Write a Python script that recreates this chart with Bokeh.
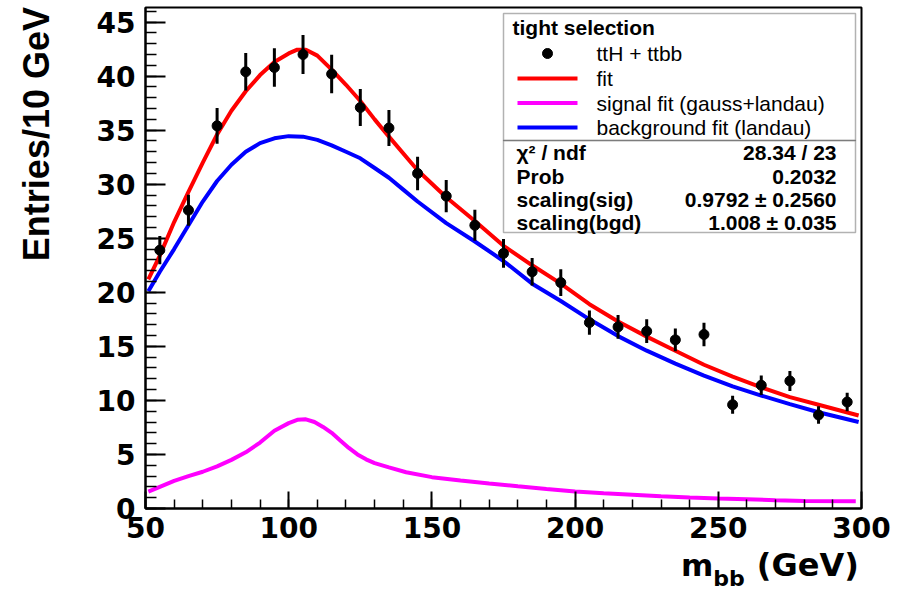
from bokeh.plotting import figure
from bokeh.models import Range1d, FixedTicker, Label, BoxAnnotation, ColumnDataSource, Div
from bokeh.layouts import column, row
from bokeh.embed import file_html
from bokeh.resources import INLINE

# ---------------- data ----------------
bin_centers = [55, 65, 75, 85, 95, 105, 115, 125, 135, 145, 155, 165, 175,
               185, 195, 205, 215, 225, 235, 245, 255, 265, 275, 285, 295]
counts = [23.9, 27.6, 35.4, 40.4, 40.8, 42.0, 40.2, 37.1, 35.2, 31.0, 28.9, 26.2, 23.6,
          21.9, 20.9, 17.2, 16.8, 16.4, 15.6, 16.1, 9.6, 11.4, 11.8, 8.65, 9.85]
errors = [1.3, 1.43, 1.65, 1.74, 1.78, 1.8, 1.78, 1.72, 1.66, 1.55, 1.5, 1.43, 1.33,
          1.28, 1.23, 1.12, 1.1, 1.1, 1.05, 1.08, 0.83, 0.9, 0.93, 0.8, 0.85]

fit_x = [51, 55, 60, 65, 70, 75, 80, 85, 90, 95, 100, 103, 106, 110, 115, 120, 125, 130,
         135, 145, 155, 165, 175, 185, 195, 205, 215, 225, 235, 245, 255, 265, 275, 285, 299]
fit_y = [21.2, 23.4, 26.5, 29.3, 32.0, 34.6, 36.8, 38.6, 40.1, 41.3, 42.1, 42.45, 42.45, 41.9,
         40.6, 39.2, 37.7, 36.0, 34.4, 31.3, 28.8, 26.6, 24.3, 22.5, 20.8, 18.9, 17.3, 15.9,
         14.6, 13.3, 12.2, 11.2, 10.3, 9.6, 8.6]

bkg_x = [51, 55, 60, 65, 70, 75, 80, 85, 90, 95, 100, 105, 110, 115, 120, 125, 130, 135,
         140, 145, 155, 165, 175, 185, 195, 205, 215, 225, 235, 245, 255, 265, 275, 285, 299]
bkg_y = [20.1, 21.9, 24.0, 26.2, 28.4, 30.3, 31.8, 33.0, 33.8, 34.25, 34.45, 34.4, 34.1, 33.6,
         33.0, 32.4, 31.5, 30.6, 29.5, 28.4, 26.4, 24.7, 22.9, 20.8, 19.2, 17.5, 15.95, 14.6,
         13.4, 12.3, 11.3, 10.45, 9.65, 8.9, 8.0]

sig_x = [51, 55, 60, 65, 70, 75, 80, 85, 90, 95, 100, 103, 106, 109, 112, 115, 118, 121,
         124, 127, 130, 135, 141, 150, 160, 170, 180, 190, 200, 210, 220, 230, 240, 250,
         260, 270, 280, 298]
sig_y = [1.56, 2.0, 2.55, 3.0, 3.4, 3.9, 4.5, 5.2, 6.1, 7.2, 7.9, 8.2, 8.25, 8.0, 7.55, 7.0,
         6.3, 5.6, 5.0, 4.55, 4.2, 3.8, 3.35, 2.9, 2.6, 2.32, 2.05, 1.8, 1.58, 1.42, 1.28,
         1.14, 1.02, 0.92, 0.85, 0.77, 0.7, 0.67]

x_major = [50, 100, 150, 200, 250, 300]
x_minor = list(range(50, 301, 10))
y_major = [0, 5, 10, 15, 20, 25, 30, 35, 40, 45]
y_minor = list(range(0, 47, 1))

legend_title = "tight selection"
legend_labels = ["ttH + ttbb", "fit", "signal fit (gauss+landau)", "background fit (landau)"]
stat_names = ["\u03c7\u00b2 / ndf", "Prob", "scaling(sig)", "scaling(bgd)"]
stat_values = ["28.34 / 23", "0.2032", "0.9792 \u00b1 0.2560", "1.008 \u00b1 0.035"]
y_title = "Entries/10 GeV"
x_title_main, x_title_sub, x_title_unit = "m", "bb", "(GeV)"

X0, X1 = 50, 300
Y0, Y1 = 0, 46.35

# ---------------- page layout (pixels) ----------------
W, H = 906, 548          # main row height
YT_W = 60                # width of the strip holding the y title
FL, FW, FT, FH = 145, 716, 7, 501   # frame position on the page
XT_H = 40                # height of the strip holding the x title


def px2x(px):
    return X0 + (px - FL) * (X1 - X0) / FW


def px2y(py):
    return Y0 + (FT + FH - py) * (Y1 - Y0) / FH


p = figure(width=W - YT_W, height=H, frame_width=FW, frame_height=FH,
           x_range=Range1d(X0, X1), y_range=Range1d(Y0, Y1),
           output_backend="svg", toolbar_location=None,
           min_border_left=FL - YT_W, min_border_right=W - FL - FW, min_border_top=FT,
           min_border_bottom=H - FT - FH)
p.background_fill_color = "white"
p.border_fill_color = "white"
p.outline_line_color = "black"
p.outline_line_width = 2
p.xgrid.visible = False
p.ygrid.visible = False

for ax, major, minor, tin, mtin in ((p.xaxis[0], x_major, x_minor, 17, 9),
                                    (p.yaxis[0], y_major, y_minor, 20, 11)):
    ax.ticker = FixedTicker(ticks=major, minor_ticks=minor)
    ax.axis_line_color = "black"
    ax.axis_line_width = 2
    ax.major_tick_in = tin
    ax.major_tick_out = 0
    ax.minor_tick_in = mtin
    ax.minor_tick_out = 0
    ax.major_tick_line_width = 2
    ax.minor_tick_line_width = 1.5
    ax.major_tick_line_color = "black"
    ax.minor_tick_line_color = "black"
    ax.major_label_text_font = "DejaVu Sans"
    ax.major_label_text_font_style = "bold"
    ax.major_label_text_font_size = "28px"
    ax.major_label_text_color = "black"
p.xaxis[0].major_label_standoff = 8
p.yaxis[0].major_label_standoff = 10

# ---------------- curves ----------------
p.line(bkg_x, bkg_y, line_color="#0000ff", line_width=4)
p.line(sig_x, sig_y, line_color="#ff00ff", line_width=4)
p.line(fit_x, fit_y, line_color="#ff0000", line_width=4)

# ---------------- data points ----------------
lo = [c - e for c, e in zip(counts, errors)]
hi = [c + e for c, e in zip(counts, errors)]
src = ColumnDataSource(dict(x=bin_centers, y=counts, lo=lo, hi=hi))
p.segment(x0="x", y0="lo", x1="x", y1="hi", source=src, line_color="black", line_width=3)
p.scatter(x="x", y="y", source=src, size=10, marker="circle",
          fill_color="black", line_color="black")

# ---------------- legend / stats box ----------------
BL, BR, BT, BD, BB = 503, 855, 13, 140, 232
p.add_layout(BoxAnnotation(left=px2x(BL), right=px2x(BR), top=px2y(BT), bottom=px2y(BD),
                           fill_alpha=0, line_color="black", line_width=1.5))
p.add_layout(BoxAnnotation(left=px2x(BL), right=px2x(BR), top=px2y(BD), bottom=px2y(BB),
                           fill_alpha=0, line_color="black", line_width=1.5))

p.add_layout(Label(x=px2x(512), y=px2y(27), text=legend_title, text_font="Liberation Sans",
                   text_font_style="bold", text_font_size="21px", text_baseline="middle",
                   text_color="black"))
row_y = [53, 78, 102.5, 127]
p.scatter([px2x(547)], [px2y(row_y[0])], size=10, marker="circle",
          fill_color="black", line_color="black")
for yy, col in zip(row_y[1:], ["#ff0000", "#ff00ff", "#0000ff"]):
    p.line([px2x(517), px2x(577)], [px2y(yy), px2y(yy)], line_color=col, line_width=4)
for yy, lab in zip(row_y, legend_labels):
    p.add_layout(Label(x=px2x(596), y=px2y(yy), text=lab, text_font="Liberation Sans",
                       text_font_size="21px", text_baseline="middle", text_color="black"))

stat_y = [152, 176, 199, 222]
for yy, nm, vv in zip(stat_y, stat_names, stat_values):
    p.add_layout(Label(x=px2x(516), y=px2y(yy), text=nm, text_font="Liberation Sans",
                       text_font_style="bold", text_font_size="21px", text_baseline="middle",
                       text_color="black"))
    p.add_layout(Label(x=px2x(836), y=px2y(yy), text=vv, text_font="Liberation Sans",
                       text_font_style="bold", text_font_size="21px", text_baseline="middle",
                       text_align="right", text_color="black"))

# ---------------- y axis title (rotated, ends at the top of the frame) ----------------
ydiv = Div(
    text=('<div style="position:relative;width:%dpx;height:%dpx;overflow:visible">'
          '<div style="position:absolute;left:19px;top:7px;white-space:nowrap;'
          'transform-origin:0 0;transform:rotate(-90deg) translateX(-100%%);'
          'font-family:\'Liberation Sans\';font-weight:bold;font-size:36px;'
          'line-height:36px;color:black">%s</div></div>') % (YT_W, H, y_title),
    width=YT_W, height=H, margin=(0, 0, 0, 0))

# ---------------- x axis title (with subscript) ----------------
xdiv = Div(
    text=('<div style="padding-left:681px;line-height:34px;'
          'font-family:\'DejaVu Sans\';font-weight:bold;font-size:31px;color:black;'
          'white-space:nowrap">%s<span style="font-size:22px;vertical-align:-10px;'
          'line-height:0">%s</span><span style="margin-left:12px;font-size:32px">%s</span>'
          '</div>') % (x_title_main, x_title_sub, x_title_unit),
    width=W, height=XT_H, margin=(0, 0, 0, 0))

layout = column(row(ydiv, p, spacing=0), xdiv, spacing=0)
open("out.html", "w").write(file_html(layout, INLINE))
